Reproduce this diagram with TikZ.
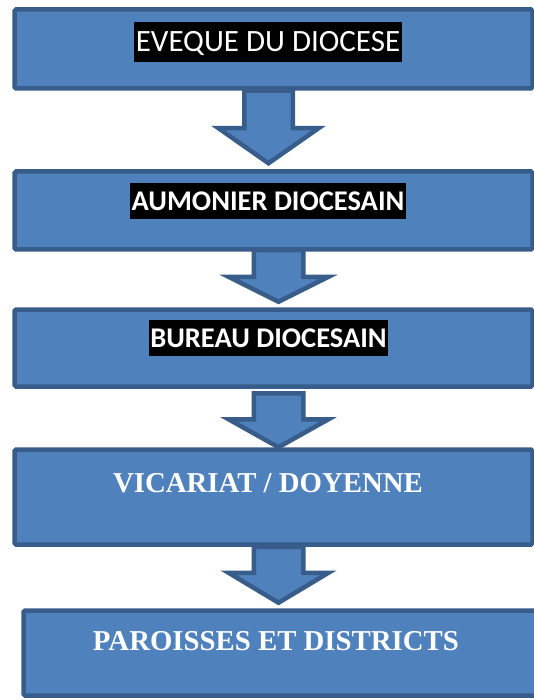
\documentclass[tikz,border=0pt]{standalone}
\usepackage{fontspec}
\usetikzlibrary{calc}
\newfontfamily\calibrif{Carlito}
\newfontfamily\timesf{Liberation Serif}
\definecolor{boxfill}{HTML}{4F81BD}
\definecolor{boxline}{HTML}{385D8A}
\tikzset{
  box/.style={draw=boxline, fill=boxfill, line width=4.5pt, rounded corners=1.5pt, inner sep=0pt},
  barrow/.style={draw=boxline, fill=boxfill, line width=4.5pt, line join=miter},
  hl/.style={fill=black, text=white, inner xsep=1.5pt, inner ysep=0pt, anchor=base, font=\calibrif\fontsize{31}{37}\selectfont},
  hlb/.style={hl, font=\calibrif\bfseries\fontsize{28.5}{34}\selectfont},
  serifl/.style={text=white, inner sep=0pt, anchor=base, font=\timesf\bfseries\fontsize{28.8}{34}\selectfont}
}
\newcommand\blkarrow[5]{%
  \draw[barrow] let \p1=(#1), \p2=(#2) in
    (\x2-#3pt,\y1) -- (\x2+#3pt,\y1) -- (\x2+#3pt,\y2+#5pt) -- (\x2+#4pt,\y2+#5pt)
    -- (\x2,\y2) -- (\x2-#4pt,\y2+#5pt) -- (\x2-#3pt,\y2+#5pt) -- cycle;}
\begin{document}
\begin{tikzpicture}[x=1pt,y=-1pt]
\useasboundingbox (0,0) rectangle (534,700);
\begin{scope}
\clip (0,0) rectangle (534,700);
% boxes
\node[box, minimum width=518pt, minimum height=79pt] (b1) at (273.5,49) {};
\node[box, minimum width=518pt, minimum height=78pt] (b2) at (273.5,210.5) {};
\node[box, minimum width=518pt, minimum height=77pt] (b3) at (273.5,348) {};
\node[box, minimum width=518pt, minimum height=95pt] (b4) at (273.5,497) {};
\node[box, minimum width=521.5pt, minimum height=85pt] (b5) at (284.25,653) {};
% arrow end points
\coordinate (a1top) at ($(b1.south)+(-5,0)$);
\coordinate (a1tip) at ($(b2.north)+(-5,-6)$);
\coordinate (a2top) at ($(b2.south)+(5,-1.5)$);
\coordinate (a2tip) at ($(b3.north)+(5,-5.5)$);
\coordinate (a3top) at ($(b3.south)+(5,4.5)$);
\coordinate (a3tip) at ($(b4.north)+(5,0)$);
\coordinate (a4top) at ($(b4.south)+(5,0)$);
\coordinate (a4tip) at ($(b5.north)+(-5.75,-5.5)$);
\blkarrow{a1top}{a1tip}{24.25}{50}{35}
\blkarrow{a2top}{a2tip}{24.75}{50}{25}
\blkarrow{a3top}{a3tip}{24.75}{50}{28}
\blkarrow{a4top}{a4tip}{24.75}{50}{30}
% texts
\node[hl, text height=30pt, text depth=10pt] (t1) at (268,52) {EVEQUE DU DIOCESE};
\node[hlb, text height=28pt, text depth=8pt] (t2) at (268,211) {AUMONIER DIOCESAIN};
\node[hlb, text height=27.7pt, text depth=8.3pt] (t3) at (268.5,347.7) {BUREAU DIOCESAIN};
\node[serifl] (t4) at (268,492) {VICARIAT / DOYENNE};
\node[serifl] (t5) at (276,650) {PAROISSES ET DISTRICTS};
\end{scope}
\end{tikzpicture}
\end{document}
